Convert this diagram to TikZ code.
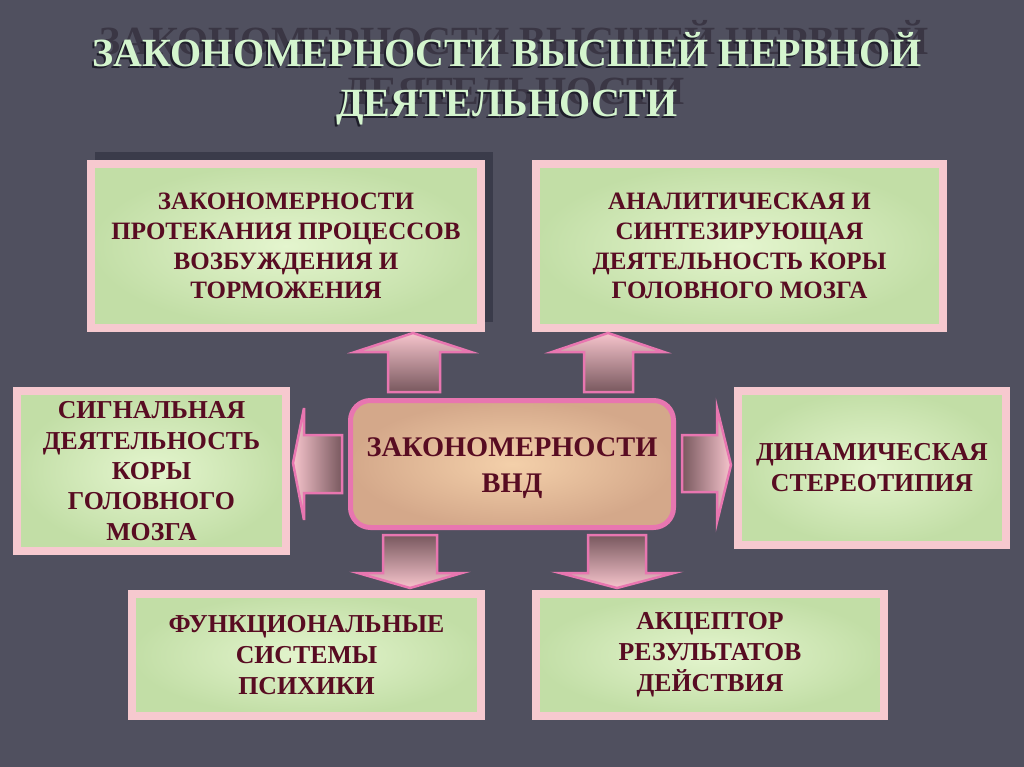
\documentclass[tikz,border=0pt]{standalone}
\usepackage{fontspec}
\setmainfont{Liberation Serif}
\definecolor{bg}{RGB}{80,80,95}
\definecolor{boxpink}{RGB}{246,201,207}
\definecolor{greenC}{RGB}{228,245,206}
\definecolor{greenE}{RGB}{194,222,166}
\definecolor{txt}{RGB}{88,12,34}
\definecolor{titlegreen}{RGB}{212,245,206}
\definecolor{ghost}{RGB}{58,54,68}
\definecolor{tshadow}{RGB}{30,30,42}
\definecolor{tanC}{RGB}{244,208,170}
\definecolor{tanE}{RGB}{212,168,138}
\definecolor{ctrpink}{RGB}{232,118,176}
\definecolor{arrlight}{RGB}{246,196,204}
\definecolor{arrdark}{RGB}{120,88,94}
\definecolor{panel}{RGB}{58,59,74}
\begin{document}
\begin{tikzpicture}[x=1pt,y=-1pt,
  box/.style={draw=boxpink, line width=8pt, inner color=greenC, outer color=greenE,
    text=txt, font=\bfseries\fontsize{25}{29.8}\selectfont, align=center, inner sep=0pt},
  boxb/.style={box, font=\bfseries\fontsize{25.8}{31}\selectfont},
  ctr/.style={draw=ctrpink, line width=5pt, rounded corners=20pt, inner color=tanC, outer color=tanE,
    text=txt, font=\bfseries\fontsize{28.4}{35.5}\selectfont, align=center, inner sep=0pt},
  blk/.style={draw=ctrpink, line width=2.5pt, line join=miter},
  ttl/.style={font=\bfseries\fontsize{40}{50}\selectfont, anchor=base}
]
\useasboundingbox (0,0) rectangle (1024,767);
\fill[bg] (0,0) rectangle (1024,767);

% title: ghost, shadow, main
\node[ttl, text=ghost] (ghostA) at (514,55) {ЗАКОНОМЕРНОСТИ ВЫСШЕЙ НЕРВНОЙ};
\node[ttl, text=ghost] (ghostB) at (514,105) {ДЕЯТЕЛЬНОСТИ};
\node[ttl, text=tshadow] (shadowA) at (505,69) {ЗАКОНОМЕРНОСТИ ВЫСШЕЙ НЕРВНОЙ};
\node[ttl, text=tshadow] (shadowB) at (505,119) {ДЕЯТЕЛЬНОСТИ};
\node[ttl, text=titlegreen] (titleA) at (507,67) {ЗАКОНОМЕРНОСТИ ВЫСШЕЙ НЕРВНОЙ};
\node[ttl, text=titlegreen] (titleB) at (507,117) {ДЕЯТЕЛЬНОСТИ};

% shadow panel behind top-left box
\fill[panel] (95,152) rectangle (493,322);

% boxes
\node[box, minimum width=390pt, minimum height=164pt] (tl) at (286,246)
  {ЗАКОНОМЕРНОСТИ\\ПРОТЕКАНИЯ ПРОЦЕССОВ\\ВОЗБУЖДЕНИЯ И\\ТОРМОЖЕНИЯ};
\node[box, minimum width=407pt, minimum height=164pt] (tr) at (739.5,246)
  {АНАЛИТИЧЕСКАЯ И\\СИНТЕЗИРУЮЩАЯ\\ДЕЯТЕЛЬНОСТЬ КОРЫ\\ГОЛОВНОГО МОЗГА};
\node[boxb, font=\bfseries\fontsize{25.8}{30.3}\selectfont, minimum width=269pt, minimum height=160pt] (l) at (151.5,471)
  {СИГНАЛЬНАЯ\\ДЕЯТЕЛЬНОСТЬ\\КОРЫ\\ГОЛОВНОГО\\МОЗГА};
\node[boxb, minimum width=268pt, minimum height=154pt] (r) at (872,468)
  {ДИНАМИЧЕСКАЯ\\СТЕРЕОТИПИЯ};
\node[boxb, minimum width=349pt, minimum height=122pt] (bl) at (306.5,655)
  {ФУНКЦИОНАЛЬНЫЕ\\СИСТЕМЫ\\ПСИХИКИ};
\node[boxb, minimum width=348pt, minimum height=122pt] (br) at (710,655)
  {АКЦЕПТОР\\РЕЗУЛЬТАТОВ\\ДЕЙСТВИЯ};
\node[ctr, minimum width=323pt, minimum height=127pt] (c) at (512,464) {};
\node[text=txt, font=\bfseries\fontsize{28.4}{35.5}\selectfont, align=center, inner sep=0pt] (ctext) at (512,468)
  {ЗАКОНОМЕРНОСТИ\\ВНД};

% block arrows
\draw[blk, top color=arrlight, bottom color=arrdark]
  (388,392) -- (388,352) -- (355,352) -- (413,333) -- (471,352) -- (440,352) -- (440,392) -- cycle;
\draw[blk, top color=arrlight, bottom color=arrdark]
  (584,392) -- (584,352) -- (552,352) -- (608,333) -- (664,352) -- (633,352) -- (633,392) -- cycle;
\draw[blk, top color=arrdark, bottom color=arrlight]
  (383,535) -- (437,535) -- (437,573) -- (462,573) -- (410,588) -- (358,573) -- (383,573) -- cycle;
\draw[blk, top color=arrdark, bottom color=arrlight]
  (588,535) -- (646,535) -- (646,573) -- (674,573) -- (617,588) -- (560,573) -- (588,573) -- cycle;
\draw[blk, left color=arrlight, right color=arrdark]
  (342,435) -- (304,435) -- (304,408) -- (293,463) -- (304,520) -- (304,493) -- (342,493) -- cycle;
\draw[blk, left color=arrdark, right color=arrlight]
  (682,435) -- (717,435) -- (717,408) -- (731,465) -- (717,522) -- (717,492) -- (682,492) -- cycle;
\end{tikzpicture}
\end{document}
